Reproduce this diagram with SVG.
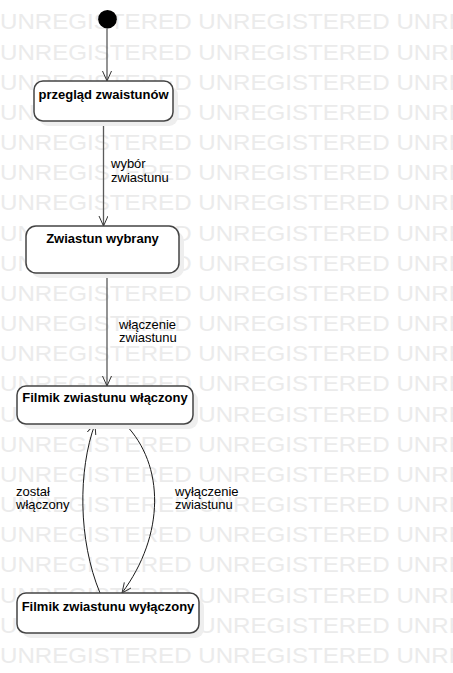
<svg xmlns="http://www.w3.org/2000/svg" xmlns:xlink="http://www.w3.org/1999/xlink" width="453" height="673" viewBox="0 0 453 673">
<style>
.wm{font-family:"Liberation Sans",Arial,sans-serif;font-size:22.5px;fill:#ebebeb}
.node rect.body{fill:#ffffff;stroke:#444444;stroke-width:1.5}
.node rect.shadow{fill:#eeeeee}
.name{font-family:"Liberation Sans",Arial,sans-serif;font-size:13px;font-weight:bold;fill:#000;text-anchor:middle}
.lbl{font-family:"Liberation Sans",Arial,sans-serif;font-size:13px;fill:#000}
.edge{fill:none;stroke:#5a5a5a;stroke-width:1.3}
.curve{fill:none;stroke:#1a1a1a;stroke-width:1}
</style>
<defs>
<text id="wmrow" class="wm" x="0" y="0" textLength="588" lengthAdjust="spacingAndGlyphs">UNREGISTERED UNREGISTERED UNREGISTERED</text>
<marker id="arr" markerUnits="userSpaceOnUse" markerWidth="12" markerHeight="10" refX="10" refY="4.5" orient="auto" viewBox="0 0 12 10">
<path d="M0,0 L10,4.5 L0,9" fill="none" stroke="#333" stroke-width="1"/>
</marker>
</defs>
<rect width="453" height="673" fill="#ffffff"/>
<g id="watermark">
<use xlink:href="#wmrow" y="29.3"/>
<use xlink:href="#wmrow" y="59.5"/>
<use xlink:href="#wmrow" y="89.6"/>
<use xlink:href="#wmrow" y="119.8"/>
<use xlink:href="#wmrow" y="150"/>
<use xlink:href="#wmrow" y="180.2"/>
<use xlink:href="#wmrow" y="210.3"/>
<use xlink:href="#wmrow" y="240.5"/>
<use xlink:href="#wmrow" y="270.7"/>
<use xlink:href="#wmrow" y="300.8"/>
<use xlink:href="#wmrow" y="331"/>
<use xlink:href="#wmrow" y="361.2"/>
<use xlink:href="#wmrow" y="391.3"/>
<use xlink:href="#wmrow" y="421.5"/>
<use xlink:href="#wmrow" y="451.7"/>
<use xlink:href="#wmrow" y="481.9"/>
<use xlink:href="#wmrow" y="512"/>
<use xlink:href="#wmrow" y="542.2"/>
<use xlink:href="#wmrow" y="572.4"/>
<use xlink:href="#wmrow" y="602.5"/>
<use xlink:href="#wmrow" y="632.7"/>
<use xlink:href="#wmrow" y="662.9"/>
</g>
<g id="connectors">
<line class="edge" x1="107" y1="28.5" x2="107" y2="81" marker-end="url(#arr)"/>
<line class="edge" x1="103.5" y1="121" x2="103.5" y2="226" marker-end="url(#arr)"/>
<line class="edge" x1="107" y1="273" x2="107" y2="386" marker-end="url(#arr)"/>
<path class="curve" d="M125,424 C165,465 165,535 122,593" marker-end="url(#arr)"/>
<path class="curve" d="M100,593 C78,540 78,470 95,424" marker-end="url(#arr)"/>
<text class="lbl" x="111" y="168">wybór</text>
<text class="lbl" x="111" y="181.5">zwiastunu</text>
<text class="lbl" x="119" y="329">włączenie</text>
<text class="lbl" x="119" y="342">zwiastunu</text>
<text class="lbl" x="16" y="496">został</text>
<text class="lbl" x="16" y="509">włączony</text>
<text class="lbl" x="175" y="496">wyłączenie</text>
<text class="lbl" x="175" y="509">zwiastunu</text>
</g>
<g id="initial">
<circle cx="107.5" cy="19.2" r="9.3" fill="#000"/>
</g>
<g id="node-przeglad" class="node">
<rect class="shadow" x="39" y="86" width="139" height="40" rx="9"/>
<rect class="body" x="34" y="81" width="139" height="40" rx="9"/>
<text class="name" x="103.5" y="99">przegląd zwaistunów</text>
</g>
<g id="node-wybrany" class="node">
<rect class="shadow" x="31" y="231" width="153" height="47" rx="10"/>
<rect class="body" x="26" y="226" width="153" height="47" rx="10"/>
<text class="name" x="102.5" y="243">Zwiastun wybrany</text>
</g>
<g id="node-wlaczony" class="node">
<rect class="shadow" x="22" y="391" width="176" height="38" rx="9"/>
<rect class="body" x="17" y="386" width="176" height="38" rx="9"/>
<text class="name" x="105" y="402">Filmik zwiastunu włączony</text>
</g>
<g id="node-wylaczony" class="node">
<rect class="shadow" x="22" y="598" width="182" height="40" rx="9"/>
<rect class="body" x="17" y="593" width="182" height="40" rx="9"/>
<text class="name" x="108" y="611">Filmik zwiastunu wyłączony</text>
</g>
</svg>
